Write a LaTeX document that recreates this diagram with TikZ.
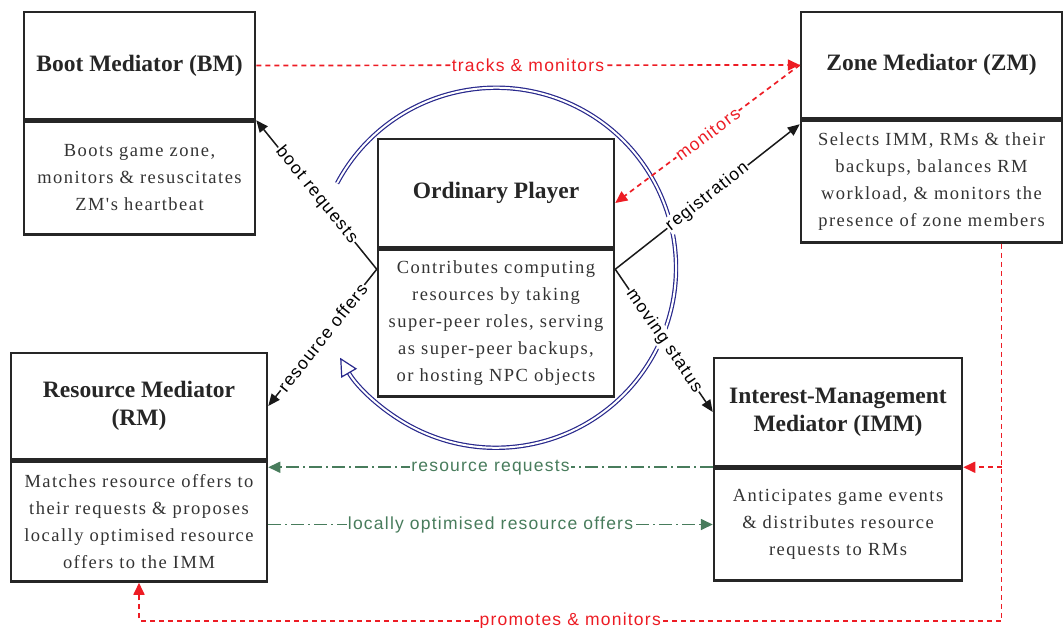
\documentclass[tikz,border=0pt]{standalone}
\usepackage{fontspec}
\setmainfont{Liberation Serif}
\newfontfamily\bodyfont[LetterSpace=8]{Liberation Serif}
\newfontfamily\edgefont[LetterSpace=7]{Liberation Sans}
\usetikzlibrary{positioning,arrows.meta,calc}
\definecolor{mred}{RGB}{237,28,36}
\definecolor{mgreen}{RGB}{72,124,92}
\definecolor{mnavy}{RGB}{40,40,140}

\begin{document}
\begin{tikzpicture}[x=1pt,y=-1pt,
	head/.style={draw=black!85,line width=2.5pt,minimum height=107pt,inner sep=2pt,align=center,
		font=\fontsize{23.5}{28}\selectfont\bfseries,text=black!85},
	body/.style={draw=black!85,line width=2.5pt,inner sep=2pt,align=center,
		font=\bodyfont\fontsize{18.5}{27}\selectfont,text=black!80},
	lbl/.style={fill=white,inner sep=1pt,font=\edgefont\fontsize{17.5}{20}\selectfont},
	conn/.style={draw=black!90,line width=1.5pt,-{Triangle[length=12pt,width=10pt]}},
	redtrack/.style={draw=mred,line width=1.7pt,dash pattern=on 5pt off 4pt,-{Triangle[length=12pt,width=11pt]}},
	greenline/.style={draw=mgreen,line width=1.7pt,dash pattern=on 13pt off 4pt on 2pt off 4pt,-{Triangle[length=12pt,width=11pt]}},
	orbit/.style={draw=mnavy,line width=1.2pt,double=white,double distance=2pt}]
	\useasboundingbox (0,0) rectangle (1064,628);

	% the five mediators and the player
	\node[head,minimum width=231pt] (bm) at (139.5,65.5) {Boot Mediator (BM)};
	\node[body,minimum width=231pt,minimum height=113pt,below=0pt of bm] (bmtext)
		{Boots game zone,\\monitors \& resuscitates\\ZM's heartbeat};

	\node[head,minimum width=261pt,minimum height=106pt] (zm) at (931.5,65) {Zone Mediator (ZM)};
	\node[body,minimum width=261pt,minimum height=122pt,below=0pt of zm] (zmtext)
		{Selects IMM, RMs \& their\\backups, balances RM\\workload, \& monitors the\\presence of zone members};

	\node[head,minimum width=236pt,minimum height=108pt] (op) at (496,193) {Ordinary Player};
	\node[body,minimum width=236pt,minimum height=147pt,below=0pt of op] (optext)
		{Contributes computing\\resources by taking\\super-peer roles, serving\\as super-peer backups,\\or hosting NPC objects};

	\node[head,minimum width=256pt,minimum height=106pt] (rm) at (139,406) {Resource Mediator\\(RM)};
	\node[body,minimum width=256pt,minimum height=120pt,below=0pt of rm] (rmtext)
		{Matches resource offers to\\their requests \& proposes\\locally optimised resource\\offers to the IMM};

	\node[head,minimum width=248pt,minimum height=108pt] (imm) at (838,412) {Interest-Management\\Mediator (IMM)};
	\node[body,minimum width=248pt,minimum height=112pt,below=0pt of imm] (immtext)
		{Anticipates game events\\\& distributes resource\\requests to RMs};

	% role cycle round the player
	\coordinate (opmid) at ($(op.north)!0.5!(optext.south)$);
	\draw[orbit,-{Triangle[open,length=18pt,width=18pt]}] (opmid) ++(-152:180) arc[start angle=-152,end angle=150,radius=180];

	% player links
	\coordinate (opl) at ([yshift=-21pt]optext.north west);
	\coordinate (opr) at ([yshift=-21pt]optext.north east);
	\draw[conn] (opl) -- node[lbl,sloped]{boot requests} (bm.south east);
	\draw[conn] (opl) -- node[lbl,sloped]{resource offers} (rm.east);
	\draw[conn] (opr) -- node[lbl,sloped]{registration} ([yshift=-5pt]zmtext.north west);
	\draw[conn] (opr) -- node[lbl,sloped]{moving status} (imm.west);

	% monitoring
	\draw[redtrack] (bm.east) -- node[lbl,text=mred]{tracks \& monitors} (zm.west);
	\draw[redtrack] (zm.west) -- node[lbl,sloped,text=mred]{monitors} ([yshift=-10pt]op.east);
	\coordinate (zmdrop) at ([xshift=70pt]zmtext.south);
	\coordinate (rmturn) at ([yshift=-38pt]rmtext.south);
	\draw[redtrack] (zmdrop) |- node[lbl,pos=0.75,text=mred]{promotes \& monitors} (rmturn) -- (rmtext.south);
	\draw[redtrack] (zmdrop |- immtext.north east) -- (immtext.north east);

	% resource flow
	\draw[greenline] (immtext.north west) -- node[lbl,text=mgreen]{resource requests} (immtext.north west -| rm.east);
	\draw[greenline] (immtext.west -| rm.east) -- node[lbl,text=mgreen]{locally optimised resource offers} (immtext.west);
\end{tikzpicture}
\end{document}
